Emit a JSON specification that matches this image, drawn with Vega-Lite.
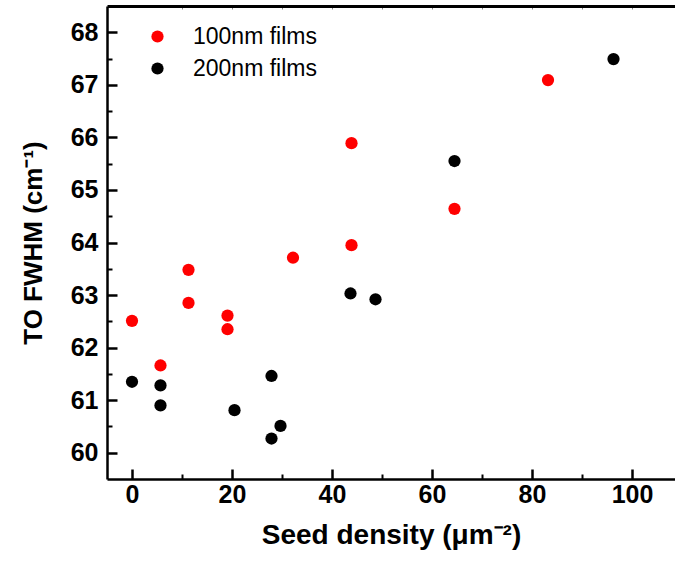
{
  "$schema": "https://vega.github.io/schema/vega-lite/v6.json",
  "width": 568,
  "height": 473,
  "autosize": {"type": "none"},
  "padding": {"left": 107, "top": 6, "right": 0, "bottom": 83},
  "config": {
    "view": {"stroke": null},
    "font": "Liberation Sans",
    "axis": {"grid": false, "domainColor": "#000000", "tickColor": "#000000", "labelColor": "#000000", "titleColor": "#000000"}
  },
  "data": {
    "values": [
      {"density": 0, "fwhm": 62.51, "film": "100nm films"},
      {"density": 5.7, "fwhm": 61.66, "film": "100nm films"},
      {"density": 11.3, "fwhm": 62.85, "film": "100nm films"},
      {"density": 11.3, "fwhm": 63.48, "film": "100nm films"},
      {"density": 19.1, "fwhm": 62.61, "film": "100nm films"},
      {"density": 19.1, "fwhm": 62.35, "film": "100nm films"},
      {"density": 32.2, "fwhm": 63.71, "film": "100nm films"},
      {"density": 43.9, "fwhm": 65.89, "film": "100nm films"},
      {"density": 43.9, "fwhm": 63.95, "film": "100nm films"},
      {"density": 64.5, "fwhm": 64.64, "film": "100nm films"},
      {"density": 83.2, "fwhm": 67.09, "film": "100nm films"},
      {"density": 0, "fwhm": 61.35, "film": "200nm films"},
      {"density": 5.7, "fwhm": 61.28, "film": "200nm films"},
      {"density": 5.7, "fwhm": 60.9, "film": "200nm films"},
      {"density": 20.5, "fwhm": 60.81, "film": "200nm films"},
      {"density": 27.9, "fwhm": 61.46, "film": "200nm films"},
      {"density": 27.9, "fwhm": 60.27, "film": "200nm films"},
      {"density": 29.7, "fwhm": 60.51, "film": "200nm films"},
      {"density": 43.7, "fwhm": 63.03, "film": "200nm films"},
      {"density": 48.7, "fwhm": 62.92, "film": "200nm films"},
      {"density": 64.5, "fwhm": 65.55, "film": "200nm films"},
      {"density": 96.3, "fwhm": 67.49, "film": "200nm films"}
    ]
  },
  "layer": [
    {
      "mark": {"type": "point", "filled": true, "size": 150, "opacity": 1},
      "encoding": {
        "x": {
          "field": "density", "type": "quantitative",
          "scale": {"domain": [-5, 108.6], "nice": false, "zero": false},
          "axis": {
            "orient": "bottom", "values": [0, 20, 40, 60, 80, 100],
            "domainWidth": 2.5, "tickWidth": 2.5, "tickSize": -10,
            "labelFontSize": 25, "labelFontWeight": "bold", "labelPadding": 13,
            "title": "Seed density (μm⁻²)", "titleFontSize": 28, "titleFontWeight": "bold", "titlePadding": 14
          }
        },
        "y": {
          "field": "fwhm", "type": "quantitative",
          "scale": {"domain": [59.5, 68.5], "nice": false, "zero": false},
          "axis": {
            "orient": "left", "values": [60, 61, 62, 63, 64, 65, 66, 67, 68],
            "domainWidth": 2.5, "tickWidth": 2.5, "tickSize": -10,
            "labelFontSize": 25, "labelFontWeight": "bold", "labelPadding": 19,
            "title": "TO FWHM (cm⁻¹)", "titleFontSize": 26, "titleFontWeight": "bold", "titlePadding": 24
          }
        },
        "color": {
          "field": "film", "type": "nominal",
          "scale": {"domain": ["100nm films", "200nm films"], "range": ["#ff0000", "#000000"]},
          "legend": {
            "orient": "none", "legendX": 39, "legendY": 19, "title": null,
            "symbolType": "circle", "symbolSize": 150, "symbolStrokeWidth": 0,
            "labelFontSize": 23, "labelOffset": 24, "rowPadding": 8
          }
        }
      }
    },
    {
      "mark": {"type": "point", "opacity": 0},
      "encoding": {
        "x": {
          "field": "density", "type": "quantitative",
          "axis": {"orient": "bottom", "values": [10, 30, 50, 70, 90], "labels": false, "domain": false, "tickWidth": 2, "tickSize": -5, "title": null}
        },
        "y": {
          "field": "fwhm", "type": "quantitative",
          "axis": {"orient": "left", "values": [60.5, 61.5, 62.5, 63.5, 64.5, 65.5, 66.5, 67.5], "labels": false, "domain": false, "tickWidth": 2, "tickSize": -5, "title": null}
        }
      }
    },
    {
      "mark": {"type": "point", "opacity": 0},
      "encoding": {
        "x": {
          "field": "density", "type": "quantitative",
          "axis": {"orient": "top", "values": [10, 20, 30, 40, 50, 60, 70, 80, 90, 100], "labels": false, "domainWidth": 3, "tickColor": "#888888", "tickWidth": 1, "tickSize": -3, "title": null}
        },
        "y": {"field": "fwhm", "type": "quantitative", "axis": null}
      }
    }
  ],
  "resolve": {"axis": {"x": "independent", "y": "independent"}}
}
